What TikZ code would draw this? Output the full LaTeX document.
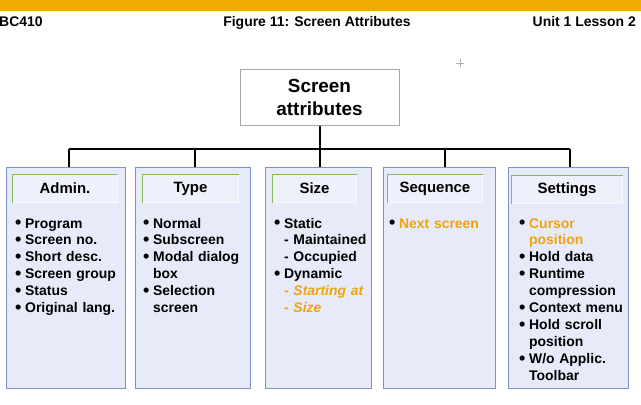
\documentclass[tikz,border=0pt]{standalone}
\usepackage{fontspec}
\setmainfont{Liberation Sans}
\definecolor{sapgold}{HTML}{F0AB00}
\definecolor{orangetxt}{HTML}{F0A20F}
\definecolor{boxfill}{HTML}{E7EBF9}
\definecolor{boxborder}{HTML}{7D93C3}
\definecolor{titlefill}{HTML}{EEF1FB}
\definecolor{titlegreen}{HTML}{86B85E}
\definecolor{rootborder}{HTML}{A6A6A6}
\tikzset{
  catbox/.style={draw=boxborder, fill=boxfill, line width=1bp, inner sep=0pt, minimum height=221bp},
  titlebox/.style={fill=titlefill, inner sep=0pt, minimum height=29bp, font=\fontsize{15}{18}\selectfont\bfseries},
  greenedge/.style={fill=titlegreen},
  lightedge/.style={fill=white!60!titlefill},
  conn/.style={draw=black, line width=2bp},
  listtext/.style={anchor=base west, inner sep=0pt, align=left, text width=110bp, font=\fontsize{14}{17}\selectfont\bfseries},
  hdrtext/.style={inner sep=0pt, font=\fontsize{14}{17}\selectfont\bfseries},
}
\newcommand\bul{\makebox[10pt][l]{\raisebox{-0.6pt}{\fontsize{18}{17}\selectfont\textbullet}}}
\newcommand\ind{\hspace*{10pt}}
\begin{document}
\begin{tikzpicture}[x=1bp,y=-1bp]
\useasboundingbox (0,0) rectangle (641,404);
\fill[white] (0,0) rectangle (641,404);
% header
\fill[sapgold] (0,0) rectangle (641,11);
\node[hdrtext, anchor=base west] (hl) at (-1,26) {BC410};
\node[hdrtext, anchor=base] (hc) at (317,26) {Figure 11: Screen Attributes};
\node[hdrtext, anchor=base east] (hr) at (636,26) {Unit 1 Lesson 2};
% cursor artefact
\draw[gray!60, line width=0.6bp] (456,63.5) -- (464,63.5) (460.5,59) -- (460.5,67);
% root
\node[draw=rootborder, fill=white, line width=1bp, minimum width=159bp, minimum height=56bp, inner sep=0pt, align=center, font=\fontsize{19}{23}\selectfont\bfseries] (root) at (319.5,97.5) {Screen\\attributes};
% category boxes
\node[catbox, minimum width=118bp] (admin) at (66,277.5) {};
\node[catbox, minimum width=115bp] (type) at (192.5,277.5) {};
\node[catbox, minimum width=106bp] (size) at (318,277.5) {};
\node[catbox, minimum width=112bp] (seq) at (439,277.5) {};
\node[catbox, minimum width=120bp] (set) at (568,277.5) {};
% connectors
\coordinate (bus) at (320,149);
\coordinate (d1) at (69,149);
\coordinate (d2) at (195,149);
\coordinate (d3) at (320,149);
\coordinate (d4) at (445,149);
\coordinate (d5) at (570,149);
\draw[conn] (root.south -| bus) -- (bus);
\draw[conn] (d1) -- (d5);
\draw[conn] (d1) -- (d1 |- admin.north);
\draw[conn] (d2) -- (d2 |- type.north);
\draw[conn] (d3) -- (d3 |- size.north);
\draw[conn] (d4) -- (d4 |- seq.north);
\draw[conn] (d5) -- (d5 |- set.north);
% title boxes
\node[titlebox, minimum width=106bp] (t1) at (65,188.5) {Admin.};
\node[titlebox, minimum width=97bp] (t2) at (190.5,188.5) {Type};
\node[titlebox, minimum width=85bp] (t3) at (314.5,188.5) {Size};
\node[titlebox, minimum width=96bp] (t4) at (435,188.5) {Sequence};
\node[titlebox, minimum width=112bp] (t5) at (567,189.5) {Settings};
\foreach \tb in {t1,t2,t3,t4,t5}{
  \fill[lightedge] (\tb.north east) rectangle ([xshift=-1.5bp]\tb.south east);
  \fill[lightedge] (\tb.south west) rectangle ([yshift=1.5bp]\tb.south east);
  \fill[greenedge] (\tb.north west) rectangle ([xshift=1.5bp]\tb.south west);
  \fill[greenedge] (\tb.north west) rectangle ([yshift=-1.5bp]\tb.north east);
}
% lists
\node[listtext] (l1) at (15,228) {\bul Program\\\bul Screen no.\\\bul Short desc.\\\bul Screen group\\\bul Status\\\bul Original lang.};
\node[listtext] (l2) at (143,228) {\bul Normal\\\bul Subscreen\\\bul Modal dialog\\\ind box\\\bul Selection\\\ind screen};
\node[listtext] (l3) at (274,228) {\bul Static\\\ind - Maintained\\\ind - Occupied\\\bul Dynamic\\\ind\textcolor{orangetxt}{\itshape - Starting at}\\\ind\textcolor{orangetxt}{\itshape - Size}};
\node[listtext] (l4) at (389,228) {\bul\textcolor{orangetxt}{Next screen}};
\node[listtext] (l5) at (519,228) {\bul\textcolor{orangetxt}{Cursor}\\\ind\textcolor{orangetxt}{position}\\\bul Hold data\\\bul Runtime\\\ind compression\\\bul Context menu\\\bul Hold scroll\\\ind position\\\bul W/o Applic.\\\ind Toolbar};
\end{tikzpicture}
\end{document}
